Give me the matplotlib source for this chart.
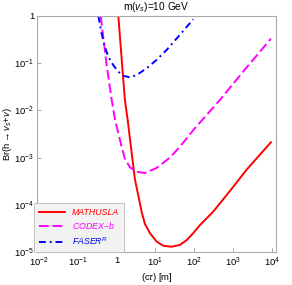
import numpy as np
from matplotlib import pyplot as plt

# MATHUSLA (red, solid)
ct_math = [1.11, 1.38, 1.64, 1.93, 2.98, 3.62, 4.44, 5.40, 7.26, 10.8, 16.0, 26.3, 43.1, 64.1, 94.8,
           141, 309, 955, 2240, 9550]
br_math = [1.0, 0.10, 1.66e-2, 6.3e-3, 3.4e-4, 1.6e-4, 7.0e-5, 3.9e-5, 2.5e-5, 1.66e-5, 1.35e-5,
           1.29e-5, 1.41e-5, 1.78e-5, 2.5e-5, 3.7e-5, 7.1e-5, 2.24e-4, 5.5e-4, 2.1e-3]

# CODEX-b (magenta, dashed)
ct_codex = [0.39, 0.56, 0.75, 0.91, 1.11, 1.35, 1.64, 2.21, 3.30, 5.40, 10.7, 23.8, 43.1, 100,
            462, 2000, 9550]
br_codex = [1.0, 8.5e-2, 1.66e-2, 6.3e-3, 3.3e-3, 1.7e-3, 9.5e-4, 6.2e-4, 5.0e-4, 4.7e-4, 6.0e-4,
            1.0e-3, 1.7e-3, 4.0e-3, 1.66e-2, 7.2e-2, 0.33]

# FASER^R (blue, dash-dot)
ct_faser = [0.34, 0.41, 0.50, 0.61, 0.82, 1.11, 1.49, 2.21, 3.30, 5.97, 10.7, 19.5, 43.1, 94.8]
br_faser = [1.0, 0.43, 0.22, 0.138, 0.091, 0.066, 0.054, 0.050, 0.056, 0.078, 0.117, 0.19, 0.40, 0.85]

xticks = [1e-2, 1e-1, 1, 1e1, 1e2, 1e3, 1e4]
xticklabels = ['$10^{-2}$', '$10^{-1}$', '1', '$10^{1}$', '$10^{2}$', '$10^{3}$', '$10^{4}$']
yticks = [1e-5, 1e-4, 1e-3, 1e-2, 1e-1, 1]
yticklabels = ['$10^{-5}$', '$10^{-4}$', '$10^{-3}$', '$10^{-2}$', '$10^{-1}$', '1']

plt.rcParams['font.family'] = ['Liberation Sans', 'DejaVu Sans']
plt.rcParams['mathtext.fontset'] = 'custom'
plt.rcParams['mathtext.rm'] = 'Liberation Sans'
plt.rcParams['mathtext.it'] = 'Liberation Sans:italic'

fig = plt.figure(figsize=(2.92, 2.85), dpi=100)
ax = fig.add_axes([0.127, 0.116, 0.818, 0.828])

ax.plot(ct_math, br_math, color='#ff0000', lw=1.4, label='MATHUSLA')
ax.plot(ct_codex, br_codex, color='#ff00ff', lw=1.4, dashes=(5, 2), label='CODEX$-b$')
ax.plot(ct_faser, br_faser, color='#0000ff', lw=1.4, dashes=(3.5, 2, 1, 2), label='FASER$^R$')

ax.set_xscale('log')
ax.set_yscale('log')
ax.set_xlim(10**-2.05, 10**4.11)
ax.set_ylim(1e-5, 1)
ax.set_xticks(xticks)
ax.set_xticklabels(xticklabels)
ax.set_yticks(yticks)
ax.set_yticklabels(yticklabels)
ax.minorticks_off()
ax.tick_params(direction='in', length=3, width=0.6, color='#999999', labelsize=6.8)
ax.tick_params(axis='x', pad=3)
ax.tick_params(axis='y', pad=2)
for s in ax.spines.values():
    s.set_color('#aaaaaa')
    s.set_linewidth(0.8)

ax.set_title('m($v_s$)=10 GeV', fontsize=7.3, pad=4)
ax.set_xlabel(r'(c$\tau$) [m]', fontsize=6.8, labelpad=1)
ax.set_ylabel(r'Br(h$\rightarrow$$v_s$+$v$)', fontsize=6.8, labelpad=0)

leg = ax.legend(loc='lower left', bbox_to_anchor=(-0.012, 0.0), borderaxespad=0,
                fontsize=6.3, fancybox=False, framealpha=1, facecolor='#f2f2f2',
                edgecolor='#bbbbbb', handlelength=2.9, labelspacing=0.4, borderpad=0.6)
leg.get_frame().set_linewidth(0.6)
for t, c in zip(leg.get_texts(), ['#ff0000', '#ff00ff', '#0000ff']):
    t.set_color(c)
    t.set_style('italic')

fig.savefig('out.png', dpi=100)
